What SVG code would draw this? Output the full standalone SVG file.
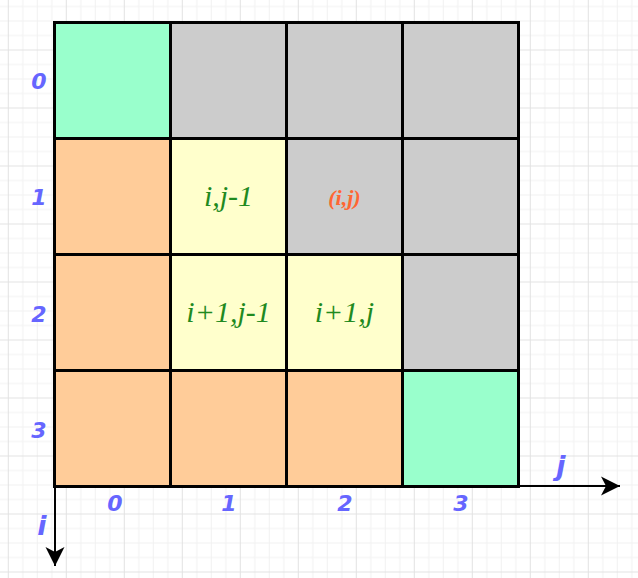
<svg xmlns="http://www.w3.org/2000/svg" width="638" height="578" viewBox="0 0 638 578">
<defs>
<pattern id="grid" patternUnits="userSpaceOnUse" x="7.8" y="-8.5" width="58" height="58">
<path d="M15,0V58M29.5,0V58M44,0V58M0,15H58M0,29.5H58M0,44H58" stroke="#f1f1f1" stroke-width="1" fill="none"/>
<path d="M0.5,0V58M0,0.5H58" stroke="#e2e2e2" stroke-width="1" fill="none"/>
</pattern>
<marker id="arrow" markerUnits="userSpaceOnUse" markerWidth="22" markerHeight="22" refX="19" refY="10" orient="auto" viewBox="0 0 22 22">
<path d="M19,10L0,0.5L5,10L0,19.5Z" fill="#000"/>
</marker>
</defs>
<style>
.c{stroke:#000;stroke-width:3}
.g{fill:#99FFCC}.y{fill:#CCCCCC}.o{fill:#FFCC99}.l{fill:#FFFFCC}
.t{font-family:"Liberation Serif",serif;font-style:italic;font-size:30px;fill:#1f8a1f;text-anchor:middle;dominant-baseline:central}
.r{font-family:"Liberation Serif",serif;font-style:italic;font-weight:bold;font-size:22px;fill:#FF6633;text-anchor:middle;dominant-baseline:central}
.n{font-family:"DejaVu Sans",sans-serif;font-style:italic;font-weight:bold;font-size:22px;fill:#6666FF;text-anchor:middle;dominant-baseline:central}
.a{font-family:"DejaVu Sans",sans-serif;font-style:italic;font-weight:bold;font-size:27px;fill:#6666FF;text-anchor:middle;dominant-baseline:central}
.x{stroke:#000;stroke-width:2;fill:none;marker-end:url(#arrow)}
</style>
<rect width="638" height="578" fill="#fff"/>
<rect width="638" height="578" fill="url(#grid)"/>
<g id="cell-0-0"><rect class="c g" x="54.5" y="22.5" width="116" height="116"/></g>
<g id="cell-0-1"><rect class="c y" x="170.5" y="22.5" width="116" height="116"/></g>
<g id="cell-0-2"><rect class="c y" x="286.5" y="22.5" width="116" height="116"/></g>
<g id="cell-0-3"><rect class="c y" x="402.5" y="22.5" width="116" height="116"/></g>
<g id="cell-1-0"><rect class="c o" x="54.5" y="138.5" width="116" height="116"/></g>
<g id="cell-1-1"><rect class="c l" x="170.5" y="138.5" width="116" height="116"/><text class="t" x="228.5" y="195">i,j-1</text></g>
<g id="cell-1-2"><rect class="c y" x="286.5" y="138.5" width="116" height="116"/><text class="r" x="344.5" y="197">(i,j)</text></g>
<g id="cell-1-3"><rect class="c y" x="402.5" y="138.5" width="116" height="116"/></g>
<g id="cell-2-0"><rect class="c o" x="54.5" y="254.5" width="116" height="116"/></g>
<g id="cell-2-1"><rect class="c l" x="170.5" y="254.5" width="116" height="116"/><text class="t" x="228.5" y="311">i+1,j-1</text></g>
<g id="cell-2-2"><rect class="c l" x="286.5" y="254.5" width="116" height="116"/><text class="t" x="344.5" y="311">i+1,j</text></g>
<g id="cell-2-3"><rect class="c y" x="402.5" y="254.5" width="116" height="116"/></g>
<g id="cell-3-0"><rect class="c o" x="54.5" y="370.5" width="116" height="116"/></g>
<g id="cell-3-1"><rect class="c o" x="170.5" y="370.5" width="116" height="116"/></g>
<g id="cell-3-2"><rect class="c o" x="286.5" y="370.5" width="116" height="116"/></g>
<g id="cell-3-3"><rect class="c g" x="402.5" y="370.5" width="116" height="116"/></g>
<g id="row-labels">
<text class="n" x="39" y="81">0</text>
<text class="n" x="39" y="197">1</text>
<text class="n" x="39" y="314">2</text>
<text class="n" x="39" y="430">3</text>
</g>
<g id="col-labels">
<text class="n" x="115" y="503">0</text>
<text class="n" x="229" y="503">1</text>
<text class="n" x="345" y="503">2</text>
<text class="n" x="461" y="503">3</text>
</g>
<g id="axis-j"><text class="a" x="561" y="465">j</text></g>
<g id="axis-i"><text class="a" x="42" y="525">i</text></g>
<g id="connectors">
<path class="x" d="M55,486H620"/>
<path class="x" d="M55,486V566"/>
</g>
</svg>
